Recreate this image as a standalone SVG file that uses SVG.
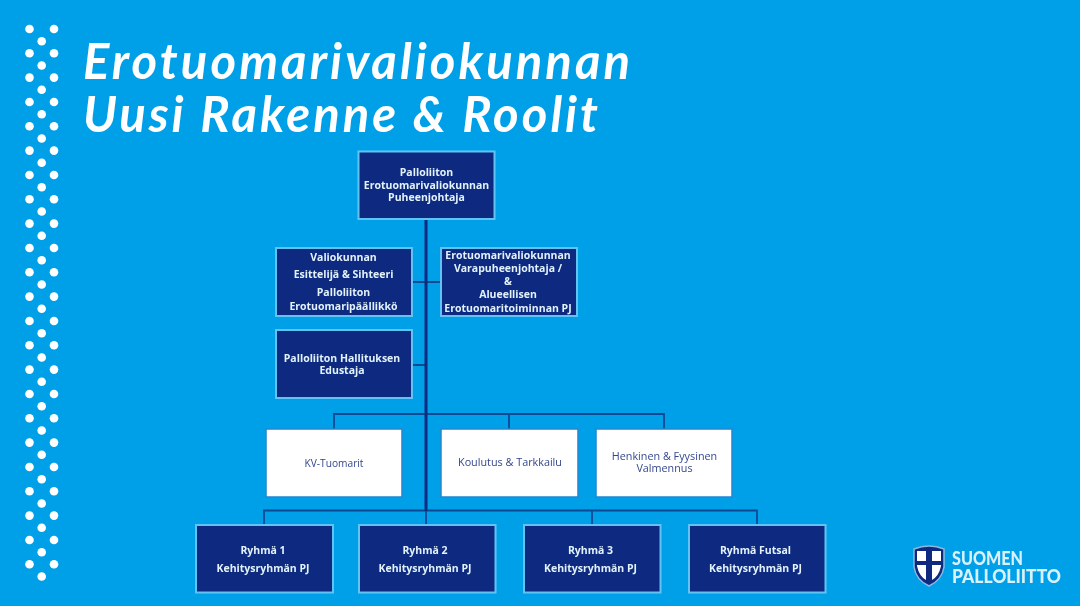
<svg xmlns="http://www.w3.org/2000/svg" width="1080" height="606" viewBox="0 0 1080 606">
<style>
.t{font-family:"Open Sans","Liberation Sans",sans-serif;font-weight:700;font-size:10.5px;text-anchor:middle}
.n rect{fill:#0a2a80;stroke:#62c3f3;stroke-width:2}
.n text{fill:#e4f2fb}
.w rect{fill:#fff;stroke:#1f86cf;stroke-width:1.5}
.w text{fill:#33478f;font-weight:400;font-size:10.8px}
.title{font-family:"Lato","Liberation Sans",sans-serif;font-style:italic;font-weight:700;font-size:49px;fill:#fff}
.c{fill:none;stroke:#0d4a93;stroke-width:1.8}
.logo{font-family:"Lato","Liberation Sans",sans-serif;font-weight:900;font-size:18px;fill:#d9f1fc}
</style>
<defs>
<filter id="b" x="-5%" y="-5%" width="110%" height="110%"><feGaussianBlur stdDeviation="0.5"/></filter>
<g id="pair"><circle cx="29.5" cy="0" r="4.3"/><circle cx="54" cy="0" r="4.3"/><circle cx="41.7" cy="12.2" r="4.3"/></g>
</defs>
<rect width="1080" height="606" fill="#00a0e9"/>
<g id="dots" fill="#fff" filter="url(#b)">
<use href="#pair" y="29"/><use href="#pair" y="53.3"/><use href="#pair" y="77.6"/><use href="#pair" y="102"/><use href="#pair" y="126.3"/><use href="#pair" y="150.6"/><use href="#pair" y="175"/><use href="#pair" y="199.3"/><use href="#pair" y="223.6"/><use href="#pair" y="248"/><use href="#pair" y="272.3"/><use href="#pair" y="296.6"/><use href="#pair" y="321"/><use href="#pair" y="345.3"/><use href="#pair" y="369.6"/><use href="#pair" y="394"/><use href="#pair" y="418.3"/><use href="#pair" y="442.6"/><use href="#pair" y="467"/><use href="#pair" y="491.3"/><use href="#pair" y="515.6"/><use href="#pair" y="540"/><use href="#pair" y="564.3"/>
</g>
<g id="title" filter="url(#b)">
<text class="title" x="83" y="79" textLength="547" lengthAdjust="spacing">Erotuomarivaliokunnan</text>
<text class="title" x="83" y="132" textLength="515" lengthAdjust="spacing">Uusi Rakenne &amp; Roolit</text>
</g>
<g id="connectors" filter="url(#b)">
<path class="c" d="M412 282H441M412 365H426M334 429V414H664V429M509 414V429M264 525V510.5H757V525M592 510.5V525M426 510V525"/>
<path d="M426 219V511" fill="none" stroke="#0a2a80" stroke-width="3"/>
</g>
<g filter="url(#b)">
<g id="n1" class="n"><rect x="358.5" y="151.5" width="136" height="67.5"/><text class="t" x="426.5" y="176">Palloliiton</text><text class="t" x="426.5" y="189">Erotuomarivaliokunnan</text><text class="t" x="426.5" y="201">Puheenjohtaja</text></g>
<g id="n2" class="n"><rect x="276" y="248" width="136" height="68"/><text class="t" x="343.5" y="261">Valiokunnan</text><text class="t" x="343.5" y="278">Esittelijä &amp; Sihteeri</text><text class="t" x="343.5" y="296">Palloliiton</text><text class="t" x="343.5" y="310">Erotuomaripäällikkö</text></g>
<g id="n3" class="n"><rect x="441" y="248" width="136" height="68"/><text class="t" x="508" y="259">Erotuomarivaliokunnan</text><text class="t" x="508" y="272">Varapuheenjohtaja /</text><text class="t" x="508" y="285">&amp;</text><text class="t" x="508" y="298">Alueellisen</text><text class="t" x="508" y="312">Erotuomaritoiminnan PJ</text></g>
<g id="n4" class="n"><rect x="276" y="330" width="136" height="68"/><text class="t" x="342" y="362">Palloliiton Hallituksen</text><text class="t" x="342" y="374">Edustaja</text></g>
<g id="n5" class="w"><rect x="266" y="429" width="136" height="68"/><text class="t" x="334" y="467" style="font-size:10.2px">KV-Tuomarit</text></g>
<g id="n6" class="w"><rect x="441" y="429" width="137" height="68"/><text class="t" x="510" y="466">Koulutus &amp; Tarkkailu</text></g>
<g id="n7" class="w"><rect x="596" y="429" width="136" height="68"/><text class="t" x="664.500" y="460">Henkinen &amp; Fyysinen</text><text class="t" x="664.500" y="472">Valmennus</text></g>
<g id="n8" class="n"><rect x="196" y="525" width="137" height="67.500"/><text class="t" x="263" y="554">Ryhmä 1</text><text class="t" x="263" y="572">Kehitysryhmän PJ</text></g>
<g id="n9" class="n"><rect x="359" y="525" width="136.500" height="67.500"/><text class="t" x="425" y="554">Ryhmä 2</text><text class="t" x="425" y="572">Kehitysryhmän PJ</text></g>
<g id="n10" class="n"><rect x="524" y="525" width="136.500" height="67.500"/><text class="t" x="590.500" y="554">Ryhmä 3</text><text class="t" x="590.500" y="572">Kehitysryhmän PJ</text></g>
<g id="n11" class="n"><rect x="689" y="525" width="136.500" height="67.500"/><text class="t" x="755.500" y="554">Ryhmä Futsal</text><text class="t" x="755.500" y="572">Kehitysryhmän PJ</text></g>
</g>
<g id="logo" filter="url(#b)">
<path d="M914 549Q929 543 944 549V567Q942 580 929 586Q916 580 914 567Z" fill="#0a2a80" stroke="#8fb7dc" stroke-width="1.500"/>
<path d="M917 551H926V561H917ZM932 551H941V561H932ZM917 565H926V580Q919 576 917 566ZM932 565H941V566Q939 576 932 580Z" fill="#fff"/>
<text class="logo" x="952" y="565" textLength="71" lengthAdjust="spacingAndGlyphs">SUOMEN</text>
<text class="logo" x="952" y="583" textLength="109" lengthAdjust="spacingAndGlyphs">PALLOLIITTO</text>
</g>
</svg>
